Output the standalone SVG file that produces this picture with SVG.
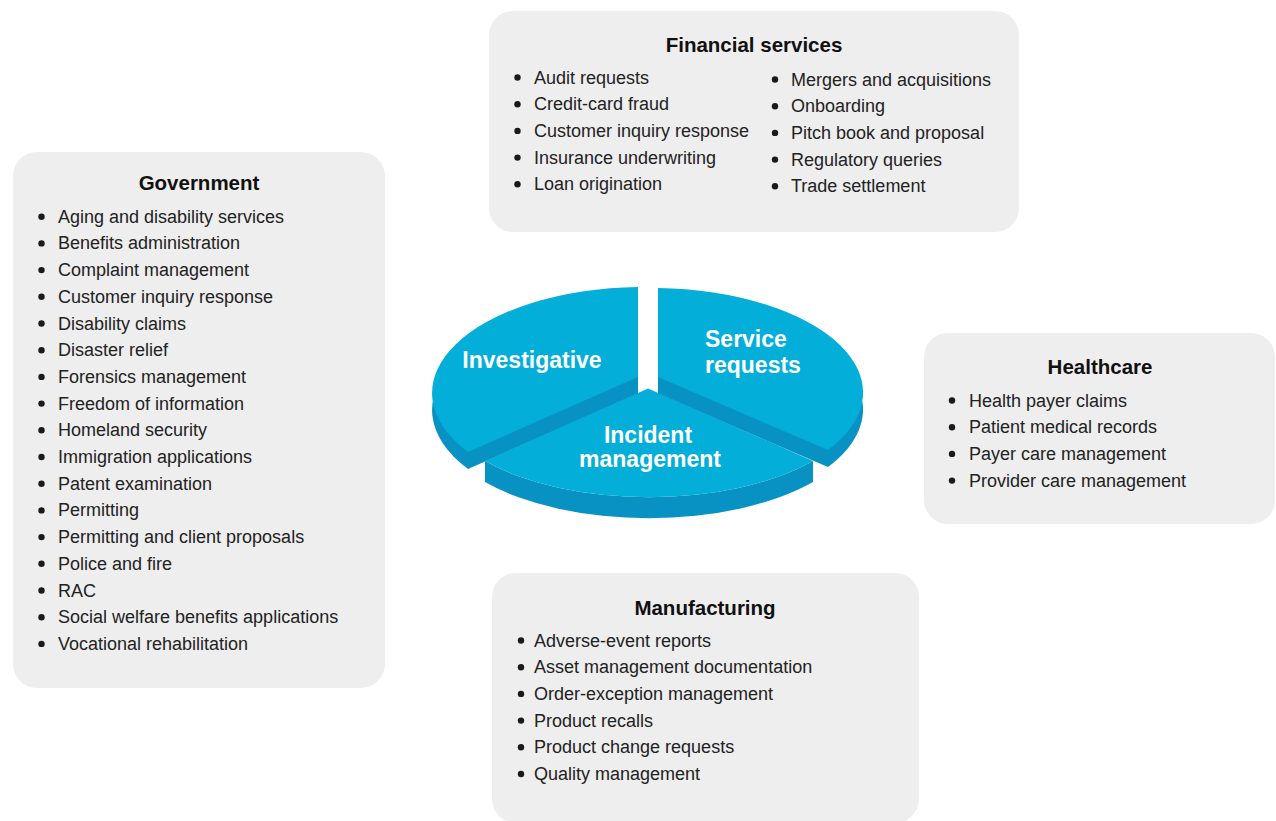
<svg xmlns="http://www.w3.org/2000/svg" xmlns:xlink="http://www.w3.org/1999/xlink" width="1276" height="821" viewBox="0 0 1276 821">
<style>
.box{fill:#eeeeee}
.title{font-family:"Liberation Sans",Arial,sans-serif;font-weight:bold;font-size:20.5px;fill:#111;text-anchor:middle}
.item{font-family:"Liberation Sans",Arial,sans-serif;font-size:18px;fill:#222}
.dot{fill:#1a1a1a}
.top{fill:#03aed9}
.side{fill:#0892c3}
.pl{font-family:"Liberation Sans",Arial,sans-serif;font-weight:bold;font-size:23px;fill:#ffffff}
</style>
<defs>
<path id="invShape" d="M638,377 L638,287 A212,106 0 0 0 468,452 Z"/>
<path id="srvShape" d="M658,377 L658,288 A212,104.5 0 0 1 828,450 Z"/>
</defs>
<rect width="1276" height="821" fill="#ffffff"/>

<g id="financial">
<rect class="box" x="489" y="11" width="530" height="221" rx="24"/>
<text class="title" x="754" y="51.5">Financial services</text>
<g class="dot"><circle cx="517.5" cy="77.5" r="3.2"/><circle cx="517.5" cy="104.2" r="3.2"/><circle cx="517.5" cy="130.9" r="3.2"/><circle cx="517.5" cy="157.6" r="3.2"/><circle cx="517.5" cy="184.3" r="3.2"/>
<circle cx="775" cy="79.5" r="3.2"/><circle cx="775" cy="106.2" r="3.2"/><circle cx="775" cy="132.9" r="3.2"/><circle cx="775" cy="159.6" r="3.2"/><circle cx="775" cy="186.3" r="3.2"/></g>
<text class="item" x="534" y="83.5">Audit requests</text>
<text class="item" x="534" y="110.2">Credit-card fraud</text>
<text class="item" x="534" y="136.9">Customer inquiry response</text>
<text class="item" x="534" y="163.6">Insurance underwriting</text>
<text class="item" x="534" y="190.3">Loan origination</text>
<text class="item" x="791" y="85.5">Mergers and acquisitions</text>
<text class="item" x="791" y="112.2">Onboarding</text>
<text class="item" x="791" y="138.9">Pitch book and proposal</text>
<text class="item" x="791" y="165.6">Regulatory queries</text>
<text class="item" x="791" y="192.3">Trade settlement</text>
</g>

<g id="government">
<rect class="box" x="13" y="152" width="372" height="536" rx="24"/>
<text class="title" x="199" y="190">Government</text>
<g class="dot">
<circle cx="41.5" cy="216.7" r="3.2"/><circle cx="41.5" cy="243.4" r="3.2"/><circle cx="41.5" cy="270.1" r="3.2"/><circle cx="41.5" cy="296.8" r="3.2"/><circle cx="41.5" cy="323.5" r="3.2"/><circle cx="41.5" cy="350.2" r="3.2"/><circle cx="41.5" cy="376.9" r="3.2"/><circle cx="41.5" cy="403.6" r="3.2"/><circle cx="41.5" cy="430.3" r="3.2"/><circle cx="41.5" cy="457" r="3.2"/><circle cx="41.5" cy="483.7" r="3.2"/><circle cx="41.5" cy="510.4" r="3.2"/><circle cx="41.5" cy="537.1" r="3.2"/><circle cx="41.5" cy="563.8" r="3.2"/><circle cx="41.5" cy="590.5" r="3.2"/><circle cx="41.5" cy="617.2" r="3.2"/><circle cx="41.5" cy="643.9" r="3.2"/>
</g>
<text class="item" x="58" y="222.7">Aging and disability services</text>
<text class="item" x="58" y="249.4">Benefits administration</text>
<text class="item" x="58" y="276.1">Complaint management</text>
<text class="item" x="58" y="302.8">Customer inquiry response</text>
<text class="item" x="58" y="329.5">Disability claims</text>
<text class="item" x="58" y="356.2">Disaster relief</text>
<text class="item" x="58" y="382.9">Forensics management</text>
<text class="item" x="58" y="409.6">Freedom of information</text>
<text class="item" x="58" y="436.3">Homeland security</text>
<text class="item" x="58" y="463">Immigration applications</text>
<text class="item" x="58" y="489.7">Patent examination</text>
<text class="item" x="58" y="516.4">Permitting</text>
<text class="item" x="58" y="543.1">Permitting and client proposals</text>
<text class="item" x="58" y="569.8">Police and fire</text>
<text class="item" x="58" y="596.5">RAC</text>
<text class="item" x="58" y="623.2">Social welfare benefits applications</text>
<text class="item" x="58" y="649.9">Vocational rehabilitation</text>
</g>

<g id="healthcare">
<rect class="box" x="924" y="333" width="351" height="191" rx="24"/>
<text class="title" x="1100" y="374">Healthcare</text>
<g class="dot"><circle cx="952" cy="400.5" r="3.2"/><circle cx="952" cy="427.2" r="3.2"/><circle cx="952" cy="453.9" r="3.2"/><circle cx="952" cy="480.6" r="3.2"/></g>
<text class="item" x="969" y="406.5">Health payer claims</text>
<text class="item" x="969" y="433.2">Patient medical records</text>
<text class="item" x="969" y="459.9">Payer care management</text>
<text class="item" x="969" y="486.6">Provider care management</text>
</g>

<g id="manufacturing">
<rect class="box" x="492" y="573" width="427" height="250" rx="24"/>
<text class="title" x="705" y="614.5">Manufacturing</text>
<g class="dot"><circle cx="521" cy="640.5" r="3.2"/><circle cx="521" cy="667.2" r="3.2"/><circle cx="521" cy="693.9" r="3.2"/><circle cx="521" cy="720.6" r="3.2"/><circle cx="521" cy="747.3" r="3.2"/><circle cx="521" cy="774" r="3.2"/></g>
<text class="item" x="534" y="646.5">Adverse-event reports</text>
<text class="item" x="534" y="673.2">Asset management documentation</text>
<text class="item" x="534" y="699.9">Order-exception management</text>
<text class="item" x="534" y="726.6">Product recalls</text>
<text class="item" x="534" y="753.3">Product change requests</text>
<text class="item" x="534" y="780">Quality management</text>
</g>

<g id="pie">
<g id="investigative">
<use xlink:href="#invShape" href="#invShape" class="side" transform="translate(0,17)"/>
<use xlink:href="#invShape" href="#invShape" class="top"/>
<text class="pl" x="532" y="368" text-anchor="middle">Investigative</text>
</g>
<g id="service">
<use xlink:href="#srvShape" href="#srvShape" class="side" transform="translate(0,17)"/>
<use xlink:href="#srvShape" href="#srvShape" class="top"/>
<text class="pl" x="705" y="347">Service</text>
<text class="pl" x="705" y="373">requests</text>
</g>
<g id="incident">
<path class="side" d="M485,461 L485,482 A213,100 0 0 0 813,482 L813,461 A213,100 0 0 1 485,461 Z"/>
<path class="top" d="M648,388.5 L485,461 A213,100 0 0 0 813,461 Z"/>
<text class="pl" x="648" y="443" text-anchor="middle">Incident</text>
<text class="pl" x="650" y="467" text-anchor="middle">management</text>
</g>
</g>
</svg>
